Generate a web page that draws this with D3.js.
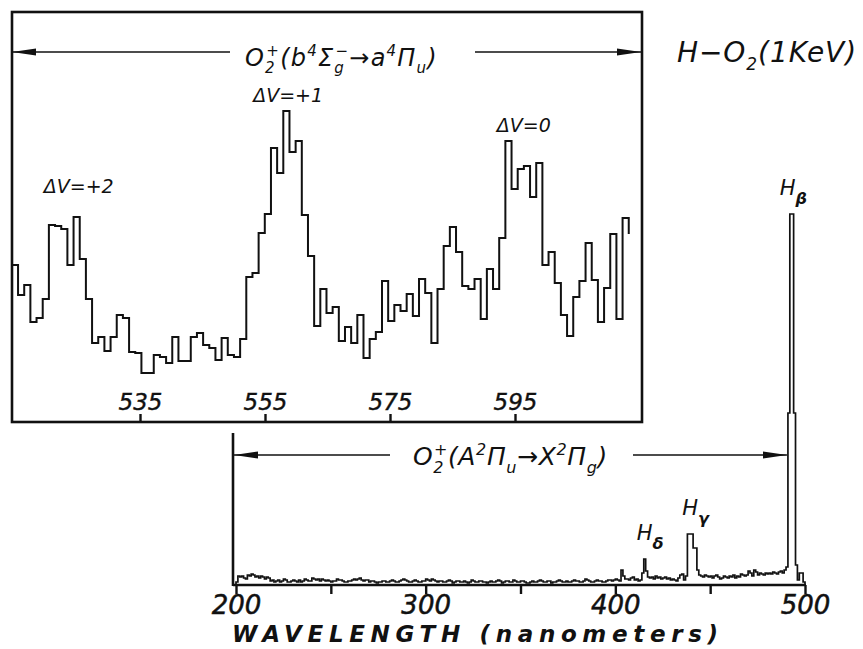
<!DOCTYPE html>
<html>
<head>
<meta charset="utf-8">
<script src="https://cdn.jsdelivr.net/npm/d3@7"></script>
<style>
  body { margin: 0; background: #fff; }
  svg { display: block; font-family: "DejaVu Sans", sans-serif; }
</style>
</head>
<body>
<svg id="chart" width="863" height="649"></svg>
<script>
// inset: O2+ first negative band system, ~1 nm bins (heights)
const insetTicks = [535, 555, 575, 595];
const insetStart = 514.5;
const insetEnd = 613.2;
const insetCounts = [
    157, 127, 137, 100, 104, 123, 197, 196, 193, 157,
    205, 163, 123, 79, 85, 71, 85, 107, 104, 70,
    69, 49, 49, 67, 65, 59, 85, 61, 61, 85,
    89, 77, 74, 62, 84, 67, 65, 83, 145, 149,
    189, 208, 274, 249, 311, 270, 281, 207, 166, 96,
    133, 109, 115, 81, 95, 79, 107, 64, 83, 90,
    141, 101, 117, 111, 128, 106, 143, 129, 79, 133,
    176, 195, 170, 136, 133, 143, 103, 153, 133, 184,
    281, 233, 253, 256, 225, 259, 157, 170, 139, 107,
    86, 125, 141, 179, 142, 100, 134, 188, 103, 204
];
const insetTail = 188;  // trace stops half way down the last step
const bandLabels = ["ΔV=+2", "ΔV=+1", "ΔV=0"];
const bandCenters = [525.2, 558.7, 596.4];

// main spectrum 200-500 nm, 1 nm bins
const mainTicks = [200, 250, 300, 350, 400, 450, 500];
const mainStart = 200;
const mainCounts = [
    3, 9, 8, 9, 7, 6, 10, 9, 11, 10,
    8, 9, 7, 9, 8, 6, 8, 7, 4, 5,
    3, 4, 5, 3, 4, 6, 5, 3, 3, 4,
    5, 4, 3, 5, 3, 4, 6, 5, 4, 4,
    7, 6, 5, 6, 4, 6, 5, 4, 5, 4,
    3, 4, 4, 6, 5, 5, 4, 3, 3, 4,
    4, 5, 6, 5, 6, 7, 5, 4, 5, 5,
    3, 4, 4, 3, 2, 3, 3, 4, 4, 3,
    3, 4, 5, 4, 3, 3, 4, 5, 6, 5,
    4, 3, 3, 4, 5, 4, 3, 3, 4, 4,
    6, 5, 4, 6, 5, 4, 3, 4, 4, 3,
    3, 4, 5, 4, 2, 3, 4, 4, 3, 3,
    4, 3, 2, 3, 5, 4, 3, 3, 4, 4,
    3, 3, 2, 3, 4, 3, 3, 4, 5, 4,
    2, 3, 4, 4, 3, 3, 5, 4, 3, 3,
    4, 4, 3, 2, 2, 3, 4, 3, 3, 4,
    5, 4, 3, 3, 4, 4, 2, 3, 3, 4,
    5, 4, 3, 3, 4, 3, 3, 4, 5, 4,
    4, 3, 3, 4, 6, 5, 4, 3, 3, 4,
    5, 4, 4, 3, 3, 4, 5, 5, 4, 5,
    6, 5, 4, 15, 9, 6, 6, 5, 7, 8,
    5, 6, 4, 5, 12, 26, 14, 8, 7, 8,
    6, 9, 7, 8, 6, 7, 8, 6, 7, 5,
    6, 5, 4, 7, 10, 11, 5, 9, 51, 51,
    51, 37, 37, 15, 10, 9, 8, 10, 9, 8,
    9, 7, 9, 10, 8, 6, 7, 9, 8, 7,
    9, 8, 10, 7, 9, 8, 11, 10, 9, 10,
    14, 12, 9, 15, 13, 10, 12, 11, 10, 12,
    11, 12, 11, 13, 12, 11, 13, 14, 12, 15,
    18, 172, 371, 371, 172, 20, 5, 12, 12, 3
];
const lineNames = ["δ", "γ", "β"];
const lineNm = [415, 439, 492];


const svg = d3.select("#chart");
const ink = "#111";

// writes a formula with sub/superscripts as tspans
function formula(g, x, y, size, parts, width) {
    const text = g.append("text")
        .attr("x", x).attr("y", y)
        .attr("font-size", size)
        .attr("font-style", "oblique")
        .attr("fill", ink);
    const small = Math.round(size * 0.62);
    const subDy = size * 0.3, supDy = -size * 0.42;
    let level = 0, chars = 0;
    const put = (s, off, fs, dx) => {
        const t = text.append("tspan").attr("dy", off - level).text(s);
        if (fs) t.attr("font-size", fs);
        if (dx) t.attr("dx", dx);
        level = off;
        chars += s.length;
        return t;
    };
    parts.forEach(([s, kind, s2]) => {
        if (kind === "sub") put(s, subDy, small);
        else if (kind === "sup") put(s, supDy, small);
        else if (kind === "both") {
            const w = put(s, subDy, small).node().getComputedTextLength();
            put(s2, supDy, small, -w);
        } else put(s, 0);
    });
    if (width) {
        const len = text.node().getComputedTextLength();
        text.attr("letter-spacing", (width - len) / chars);
    }
    return text;
}

// arrow heads
const defs = svg.append("defs");
defs.append("marker")
    .attr("id", "head")
    .attr("markerUnits", "userSpaceOnUse")
    .attr("viewBox", "0 -5 24 10")
    .attr("refX", 24).attr("refY", 0)
    .attr("markerWidth", 24).attr("markerHeight", 10)
    .attr("orient", "auto")
    .append("path")
    .attr("d", "M0,-3.6L24,0L0,3.6Z")
    .attr("fill", ink);

const arrow = (x1, x2, y) => svg.append("line")
    .attr("x1", x1).attr("x2", x2).attr("y1", y).attr("y2", y)
    .attr("stroke", ink).attr("stroke-width", 1.3)
    .attr("marker-end", "url(#head)");


// ---------- main spectrum ----------
const xMain = d3.scaleLinear().domain([200, 500]).range([236, 805]);
const yMain = d3.scaleLinear().domain([0, 371]).range([585, 214]);

const mainPts = [[mainStart, 0]]
    .concat(mainCounts.map((c, i) => [mainStart + i, c]))
    .concat([[mainStart + mainCounts.length, mainCounts[mainCounts.length - 1]],
             [mainStart + mainCounts.length, 0]]);

svg.append("path")
    .datum(mainPts)
    .attr("fill", "none")
    .attr("stroke", ink)
    .attr("stroke-width", 1.7)
    .attr("stroke-linejoin", "miter")
    .attr("d", d3.line()
        .x(d => xMain(d[0]))
        .y(d => yMain(d[1]))
        .curve(d3.curveStepAfter));

// axes
const gx = svg.append("g")
    .attr("transform", `translate(0,${yMain(0)})`)
    .call(d3.axisBottom(xMain)
        .tickValues(mainTicks)
        .tickSize(9)
        .tickPadding(2)
        .tickFormat(d => d % 100 === 0 ? d : ""));
gx.select(".domain").remove();
gx.selectAll(".tick line").attr("stroke", ink).attr("stroke-width", 2.4);
gx.selectAll(".tick text")
    .attr("fill", ink)
    .attr("font-size", 26)
    .attr("font-style", "oblique")
    .attr("stroke", ink)
    .attr("stroke-width", 0.5)
    .attr("font-family", "DejaVu Sans");

svg.append("line")
    .attr("x1", xMain.range()[0] - 3).attr("x2", xMain.range()[1] + 1)
    .attr("y1", yMain(0)).attr("y2", yMain(0))
    .attr("stroke", ink).attr("stroke-width", 2.6);
svg.append("line")
    .attr("x1", xMain.range()[0] - 3).attr("x2", xMain.range()[0] - 3)
    .attr("y1", yMain(0) + 1).attr("y2", 433)
    .attr("stroke", ink).attr("stroke-width", 2.6);

svg.append("text")
    .attr("x", 232).attr("y", 642)
    .attr("font-size", 23)
    .attr("font-weight", "bold")
    .attr("font-style", "oblique")
    .attr("textLength", 486)
    .attr("lengthAdjust", "spacing")
    .attr("fill", ink)
    .text("WAVELENGTH (nanometers)");

// hydrogen line labels
lineNames.forEach((n, i) => {
    const peak = d3.max(mainCounts.slice(lineNm[i] - mainStart - 2, lineNm[i] - mainStart + 3));
    const t = svg.append("text")
        .attr("x", xMain(lineNm[i]) - (i === 2 ? 10 : 7))
        .attr("y", yMain(peak) - 19)
        .attr("font-size", 21)
        .attr("font-style", "oblique")
        .attr("fill", ink);
    t.append("tspan").text("H");
    t.append("tspan").attr("dy", 9).attr("font-size", 16)
        .attr("font-weight", "bold").text(n);
});

// band system arrows + label
arrow(390, xMain.range()[0] - 2, 455);
arrow(633, xMain(491) - 1, 455);
formula(svg, 413, 465, 25, [
    ["O"], ["2", "both", "+"], ["(A"], ["2", "sup"], ["Π"], ["u", "sub"],
    ["→X"], ["2", "sup"], ["Π"], ["g", "sub"], [")"]
], 205);


// ---------- inset ----------
const insetLeft = 12, insetRight = 642;
const xInset = d3.scaleLinear().domain([535, 595]).range([140, 515]);
const yInset = d3.scaleLinear().domain([0, 410]).range([422, 12]);

svg.append("rect")
    .attr("x", insetLeft).attr("y", yInset(410))
    .attr("width", insetRight - insetLeft)
    .attr("height", yInset(0) - yInset(410))
    .attr("fill", "#fff")
    .attr("stroke", ink)
    .attr("stroke-width", 2.6);

const binW = (insetEnd - insetStart) / insetCounts.length;
const insetPts = insetCounts.map((c, i) => [insetStart + i * binW, c])
    .concat([[insetEnd, insetCounts[insetCounts.length - 1]], [insetEnd, insetTail]]);

svg.append("path")
    .datum(insetPts)
    .attr("fill", "none")
    .attr("stroke", ink)
    .attr("stroke-width", 2)
    .attr("d", d3.line()
        .x(d => xInset(d[0]))
        .y(d => yInset(d[1]))
        .curve(d3.curveStepAfter));

const gi = svg.append("g")
    .attr("transform", `translate(0,${yInset(0)})`)
    .call(d3.axisTop(xInset)
        .tickValues(insetTicks)
        .tickSize(8)
        .tickPadding(4));
gi.select(".domain").remove();
gi.selectAll(".tick line").attr("stroke", ink).attr("stroke-width", 2.4);
gi.selectAll(".tick text")
    .attr("fill", ink)
    .attr("font-size", 23)
    .attr("font-style", "oblique")
    .attr("stroke", ink)
    .attr("stroke-width", 0.4)
    .attr("font-family", "DejaVu Sans");

// vibrational band labels
const bandBase = [193, 102, 132];
svg.selectAll("text.band")
    .data(bandLabels)
    .join("text")
    .attr("class", "band")
    .attr("x", (d, i) => xInset(bandCenters[i]))
    .attr("y", (d, i) => bandBase[i])
    .attr("text-anchor", "middle")
    .attr("font-size", 19)
    .attr("font-style", "oblique")
    .attr("fill", ink)
    .text(d => d);

arrow(230, insetLeft, 52);
arrow(475, insetRight - 1, 52);
formula(svg, 245, 66, 24, [
    ["O"], ["2", "both", "+"], ["(b"], ["4", "sup"], ["Σ"], ["g", "both", "−"],
    ["→a"], ["4", "sup"], ["Π"], ["u", "sub"], [")"]
], 212);

// title
formula(svg, 677, 62, 28, [["H−O"], ["2", "sub"], ["(1KeV)"]], 180);
</script>
</body>
</html>
